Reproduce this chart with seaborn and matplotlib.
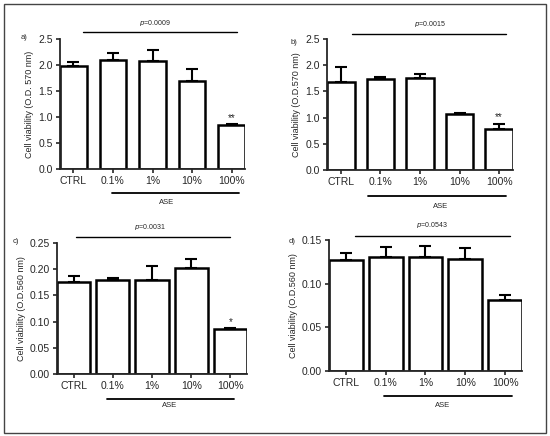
import numpy as np
import matplotlib
matplotlib.use('Agg')
import matplotlib.pyplot as plt
import matplotlib.patches as mpatches
import seaborn as sns

# dati
groups = ['CTRL', '0.1%', '1%', '10%', '100%']

mean_a = [1.99, 2.10, 2.07, 1.70, 0.84]
top_a = [2.05, 2.24, 2.29, 1.92, 0.86]

mean_b = [1.68, 1.73, 1.75, 1.07, 0.78]
top_b = [1.96, 1.78, 1.83, 1.08, 0.88]

mean_c = [0.175, 0.180, 0.179, 0.203, 0.086]
top_c = [0.187, 0.184, 0.207, 0.220, 0.087]

mean_d = [0.127, 0.130, 0.130, 0.128, 0.081]
top_d = [0.135, 0.142, 0.143, 0.141, 0.087]

pvals = ['=0.0009', '=0.0015', '=0.0031', '=0.0543']
stars = ['**', '**', '*', '']
panel_lab = ['a)', 'b)', 'c)', 'd)']
ylabels = ['Cell viability (O.D. 570 nm)', 'Cell viability (O.D.570 nm)',
           'Cell viability (O.D.560 nm)', 'Cell viability (O.D.560 nm)']

sns.set_style('ticks')
plt.rcParams['font.family'] = ['Liberation Sans', 'DejaVu Sans']

W, H = 550, 436
fig = plt.figure(figsize=(W / 100, H / 100), dpi=100)

def px_axes(x0, x1, ytop, ybot):
    return fig.add_axes([x0 / W, 1 - ybot / H, (x1 - x0) / W, (ybot - ytop) / H])

# posizioni in pixel: x0, x1, ytop, ybot, larghezza barre
boxes = [(60, 245, 39, 169, 0.68), (327, 513, 39, 170, 0.70),
         (57, 247, 243, 374, 0.85), (329, 522, 240, 371, 0.85)]
ylims = [(0, 2.5, 0.5, '%.1f'), (0, 2.5, 0.5, '%.1f'),
         (0, 0.25, 0.05, '%.2f'), (0, 0.15, 0.05, '%.2f')]
# linee p e ASE, in frazioni degli assi
pline = [(0.124, 0.957, 1.054, 0.514, 1.123), (0.134, 0.962, 1.038, 0.554, 1.115),
         (0.100, 0.910, 1.046, 0.489, 1.122), (0.135, 0.938, 1.031, 0.534, 1.115)]
aseline = [(0.281, 0.968, -0.185, 0.578, -0.254), (0.220, 0.962, -0.198, 0.613, -0.275),
           (0.263, 0.932, -0.191, 0.595, -0.244), (0.285, 0.948, -0.191, 0.590, -0.260)]
labpos = [(-0.195, 1.015), (-0.177, 0.97), (-0.216, 1.015), (-0.192, 0.99)]

means = [mean_a, mean_b, mean_c, mean_d]
tops = [top_a, top_b, top_c, top_d]

for i in range(4):
    x0, x1, yt, yb, w = boxes[i]
    ax = px_axes(x0, x1, yt, yb)
    m = np.array(means[i])
    t = np.array(tops[i])
    sns.barplot(x=groups, y=m, width=w, color='white', edgecolor='black',
                linewidth=1.8, ax=ax, errorbar=None)
    ax.errorbar(np.arange(5), m, yerr=[np.zeros(5), t - m], fmt='none',
                ecolor='black', elinewidth=1.5, capsize=4, capthick=1.5)
    ax.set_xlim(-w / 2, 4 + w / 2)
    lo, hi, st, fmt = ylims[i]
    ax.set_ylim(lo, hi)
    ax.set_yticks(np.arange(lo, hi + st / 2, st))
    ax.yaxis.set_major_formatter(matplotlib.ticker.FormatStrFormatter(fmt))
    sns.despine(ax=ax)
    for s in ['left', 'bottom']:
        ax.spines[s].set_linewidth(1.3)
    ax.tick_params(axis='both', length=3, width=1.2, labelsize=7.5, pad=2)
    ax.set_ylabel(ylabels[i], fontsize=6.5, labelpad=3)
    ax.set_xlabel('')

    if stars[i]:
        ax.annotate(stars[i], (4, t[4]), xytext=(0, 1), textcoords='offset points',
                    ha='center', va='bottom', fontsize=7)

    a, b, y, tx, ty = pline[i]
    ax.plot([a, b], [y, y], color='black', lw=1.0, transform=ax.transAxes, clip_on=False)
    ax.text(tx, ty, '$p$' + pvals[i], transform=ax.transAxes, ha='center', va='center',
            fontsize=5)
    a, b, y, tx, ty = aseline[i]
    ax.plot([a, b], [y, y], color='black', lw=1.3, transform=ax.transAxes, clip_on=False)
    ax.text(tx, ty, 'ASE', transform=ax.transAxes, ha='center', va='center', fontsize=5.5)
    lx, ly = labpos[i]
    ax.text(lx, ly, panel_lab[i], transform=ax.transAxes, ha='center', va='center',
            fontsize=5.5)

fig.patches.append(mpatches.Rectangle((4 / W, 3 / H), 542 / W, 429 / H, transform=fig.transFigure,
                                      fill=False, edgecolor='#444444', lw=1.0))

fig.savefig('out.png', dpi=100)
